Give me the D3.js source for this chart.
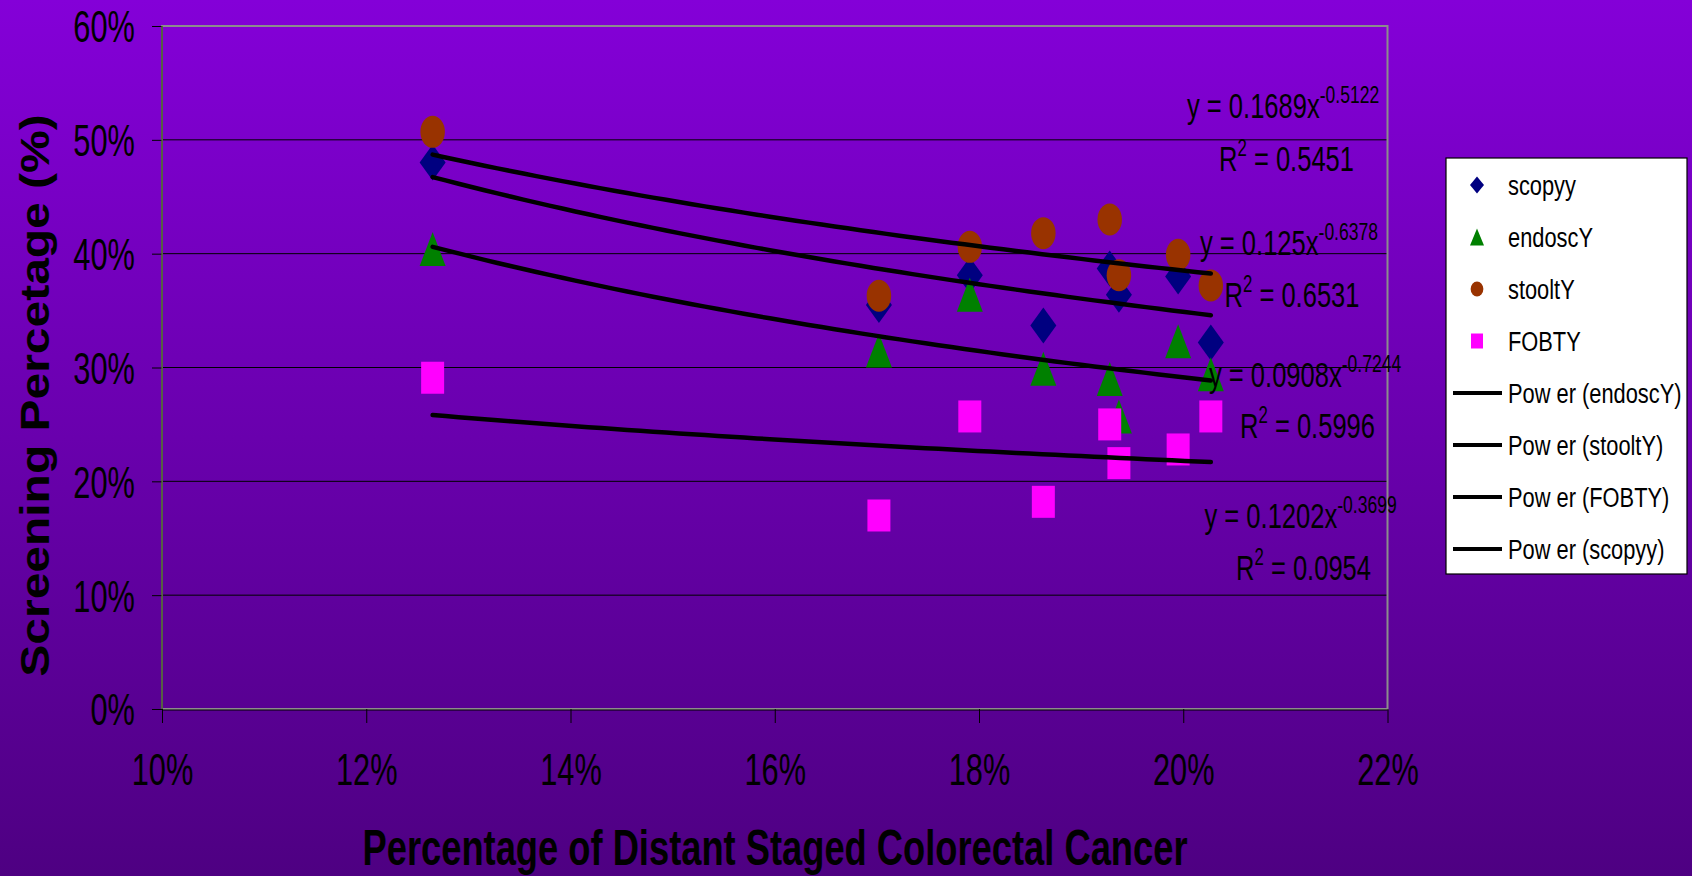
<!DOCTYPE html>
<html>
<head>
<meta charset="utf-8">
<script src="https://cdnjs.cloudflare.com/ajax/libs/d3/7.8.5/d3.min.js"></script>
<style>
  body { margin: 0; overflow: hidden; }
  text { font-family: "Liberation Sans", Arial, sans-serif; fill: #000; }
</style>
</head>
<body>
<script>
// Data (percentages)
var xValues   = [12.65, 17.02, 17.91, 18.63, 19.28, 19.37, 19.95, 20.27];
var scopyy    = [48.0, 35.5, 38.1, 33.7, 38.7, 36.4, 38.0, 32.2];
var endoscY   = [40.4, 31.5, 36.4, 29.9, 29.0, 25.7, 32.3, 29.4];
var stooltY   = [50.7, 36.3, 40.6, 41.8, 43.0, 38.1, 39.9, 37.2];
var FOBTY     = [29.1, 17.0, 25.7, 18.2, 25.0, 21.6, 22.8, 25.7];

var seriesNames  = ["scopyy", "endoscY", "stooltY", "FOBTY"];
var seriesValues = [scopyy, endoscY, stooltY, FOBTY];
var seriesColors = ["#000080", "#008000", "#993300", "#FF00FF"];
var seriesShapes = ["diamond", "triangle", "circle", "square"];

// Power trendlines as printed on the chart
var fitSeries = ["stooltY", "scopyy", "endoscY", "FOBTY"];
var fitCoef   = ["0.1689", "0.125", "0.0908", "0.1202"];
var fitExp    = ["-0.5122", "-0.6378", "-0.7244", "-0.3699"];
var fitR2     = ["0.5451", "0.6531", "0.5996", "0.0954"];
var legendLines = ["endoscY", "stooltY", "FOBTY", "scopyy"];

var xTicks = [10, 12, 14, 16, 18, 20, 22];
var yTicks = [0, 10, 20, 30, 40, 50, 60];

var W = 1692, H = 876;
var plot = {left: 162, right: 1387.5, top: 26, bottom: 709};

var svg = d3.select("body").append("svg")
    .attr("width", W).attr("height", H);

// Background gradient
var defs = svg.append("defs");
var grad = defs.append("linearGradient").attr("id", "bg")
    .attr("x1", 0).attr("y1", 0).attr("x2", 0).attr("y2", 1);
grad.append("stop").attr("offset", "0%").attr("stop-color", "#8400D8");
grad.append("stop").attr("offset", "100%").attr("stop-color", "#4E0082");
svg.append("rect").attr("width", W).attr("height", H).attr("fill", "url(#bg)");

var xScale = d3.scaleLinear().domain([10, 22]).range([plot.left, plot.right]);
var yScale = d3.scaleLinear().domain([0, 60]).range([plot.bottom, plot.top]);

// Gridlines
svg.append("g").selectAll("line")
    .data(yTicks.filter(function(d) { return d > 0 && d < 60; }))
    .enter().append("line")
    .attr("x1", plot.left).attr("x2", plot.right)
    .attr("y1", function(d) { return yScale(d); })
    .attr("y2", function(d) { return yScale(d); })
    .attr("stroke", "#000").attr("stroke-width", 1);

// Plot frame (top / right grey)
svg.append("rect")
    .attr("x", plot.left).attr("y", plot.top)
    .attr("width", plot.right - plot.left).attr("height", plot.bottom - plot.top)
    .attr("fill", "none").attr("stroke", "#8c8c8c").attr("stroke-width", 2);

var sx = 0.70;  // the chart text is squeezed horizontally

// Y axis
var yAxis = svg.append("g")
    .attr("transform", "translate(" + plot.left + ",0)")
    .call(d3.axisLeft(yScale).tickValues(yTicks).tickSize(10).tickPadding(17)
        .tickFormat(function(d) { return d + "%"; }));
yAxis.select(".domain").remove();
yAxis.selectAll(".tick line").attr("stroke", "#000");
yAxis.selectAll(".tick text")
    .style("font-size", "44px").style("font-family", "'Liberation Sans', Arial, sans-serif")
    .attr("fill", "#000")
    .attr("dy", "0.36em")
    .attr("x", -27 / sx)
    .attr("transform", "scale(" + sx + ",1)");
svg.append("line")
    .attr("x1", plot.left).attr("x2", plot.left)
    .attr("y1", plot.top).attr("y2", plot.bottom)
    .attr("stroke", "#44502c").attr("stroke-width", 1.5);

// X axis
var xAxis = svg.append("g")
    .attr("transform", "translate(0," + plot.bottom + ")")
    .call(d3.axisBottom(xScale).tickValues(xTicks).tickSize(14)
        .tickFormat(function(d) { return d + "%"; }));
xAxis.select(".domain").remove();
xAxis.selectAll(".tick line").attr("stroke", "#000");
xAxis.selectAll(".tick text")
    .style("font-size", "44px").style("font-family", "'Liberation Sans', Arial, sans-serif")
    .attr("fill", "#000")
    .attr("y", 76).attr("dy", 0).attr("x", 0)
    .attr("transform", "scale(" + sx + ",1)");
svg.append("line")
    .attr("x1", plot.left).attr("x2", plot.right)
    .attr("y1", plot.bottom + 1).attr("y2", plot.bottom + 1)
    .attr("stroke", "#000").attr("stroke-width", 1);

// Marker shapes (stretched vertically like the picture)
function shapePath(type, w, h) {
    var a = w / 2, b = h / 2;
    if (type === "diamond") return "M0," + (-b) + "L" + a + ",0L0," + b + "L" + (-a) + ",0Z";
    if (type === "triangle") return "M0," + (-b) + "L" + a + "," + b + "L" + (-a) + "," + b + "Z";
    if (type === "square") return "M" + (-a) + "," + (-b) + "H" + a + "V" + b + "H" + (-a) + "Z";
    // ellipse
    return "M" + (-a) + ",0A" + a + "," + b + " 0 1,0 " + a + ",0A" + a + "," + b + " 0 1,0 " + (-a) + ",0Z";
}
var markerSize = {diamond: [26, 36], triangle: [26, 34], circle: [24.5, 32], square: [23, 32]};

seriesNames.forEach(function(name, si) {
    var sz = markerSize[seriesShapes[si]];
    svg.append("g").attr("class", "series-" + name)
        .selectAll("path")
        .data(seriesValues[si])
        .enter().append("path")
        .attr("d", shapePath(seriesShapes[si], sz[0], sz[1]))
        .attr("transform", function(d, i) {
            return "translate(" + xScale(xValues[i]) + "," + yScale(d) + ")";
        })
        .attr("fill", seriesColors[si]);
});

// Trendlines y = a * x^b on the fraction scale
var xMin = d3.min(xValues), xMax = d3.max(xValues);
var line = d3.line()
    .x(function(d) { return xScale(d[0]); })
    .y(function(d) { return yScale(d[1]); });
fitSeries.forEach(function(name, k) {
    var pts = d3.range(0, 61).map(function(j) {
        var x = xMin + (xMax - xMin) * j / 60;
        return [x, 100 * (+fitCoef[k]) * Math.pow(x / 100, +fitExp[k])];
    });
    svg.append("path").datum(pts)
        .attr("d", line)
        .attr("fill", "none").attr("stroke", "#000")
        .attr("stroke-width", 4.5).attr("stroke-linecap", "round");
});

// Equation labels
var eqPos = [[1187, 118, 1219, 171], [1200, 255, 1224.5, 307], [1209, 387, 1240, 438], [1204.5, 528, 1236, 580]];
var esx = 0.73;
fitSeries.forEach(function(name, k) {
    var p = eqPos[k];
    var t1 = svg.append("text")
        .attr("transform", "translate(" + p[0] + "," + p[1] + ") scale(" + esx + ",1)")
        .style("font-size", "35px");
    t1.append("tspan").text("y = " + fitCoef[k] + "x");
    t1.append("tspan").attr("dy", -15).style("font-size", "24px").text(fitExp[k]);
    var t2 = svg.append("text")
        .attr("transform", "translate(" + p[2] + "," + p[3] + ") scale(" + esx + ",1)")
        .style("font-size", "35px");
    t2.append("tspan").text("R");
    t2.append("tspan").attr("dy", -15).style("font-size", "23px").text("2");
    t2.append("tspan").attr("dy", 15).text(" = " + fitR2[k]);
});

// Axis titles
svg.append("text")
    .attr("transform", "translate(775,865) scale(0.726,1)")
    .attr("text-anchor", "middle")
    .style("font-size", "50px").style("font-weight", "bold")
    .text("Percentage of Distant Staged Colorectal Cancer");
svg.append("text")
    .attr("transform", "translate(48.6,395.5) rotate(-90) scale(1.17,1)")
    .attr("text-anchor", "middle")
    .style("font-size", "41px").style("font-weight", "bold")
    .text("Screening Percetage (%)");

// Legend
var legend = svg.append("g");
legend.append("rect")
    .attr("x", 1446).attr("y", 158).attr("width", 241).attr("height", 416)
    .attr("fill", "#fff").attr("stroke", "#000").attr("stroke-width", 1.2);
var rowY = d3.scaleLinear().domain([0, 7]).range([185, 549]);
var legendMarker = {diamond: [14, 17], triangle: [14, 17], circle: [12.7, 15], square: [12, 15]};
seriesNames.forEach(function(name, i) {
    var sz = legendMarker[seriesShapes[i]];
    legend.append("path")
        .attr("d", shapePath(seriesShapes[i], sz[0], sz[1]))
        .attr("transform", "translate(1477," + rowY(i) + ")")
        .attr("fill", seriesColors[i]);
    legend.append("text")
        .attr("transform", "translate(1508," + (rowY(i) + 10) + ") scale(0.78,1)")
        .style("font-size", "28px").text(name);
});
legendLines.forEach(function(name, j) {
    var i = j + 4;
    legend.append("line")
        .attr("x1", 1453).attr("x2", 1502)
        .attr("y1", rowY(i)).attr("y2", rowY(i))
        .attr("stroke", "#000").attr("stroke-width", 4);
    legend.append("text")
        .attr("transform", "translate(1508," + (rowY(i) + 10) + ") scale(0.78,1)")
        .style("font-size", "28px").text("Pow er (" + name + ")");
});
</script>
</body>
</html>
